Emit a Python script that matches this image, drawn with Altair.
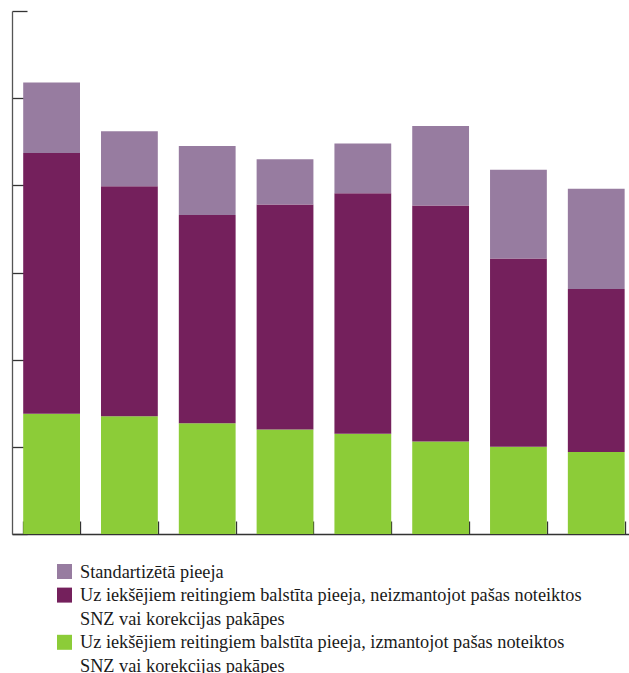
import altair as alt
import pandas as pd

categories = ["1", "2", "3", "4", "5", "6", "7", "8"]
series_names = [
    "Standartizētā pieeja",
    "Uz iekšējiem reitingiem balstīta pieeja, neizmantojot pašas noteiktos SNZ vai korekcijas pakāpes",
    "Uz iekšējiem reitingiem balstīta pieeja, izmantojot pašas noteiktos SNZ vai korekcijas pakāpes",
]
colors = ["#977ca0", "#74205c", "#8ccc38"]

standardised = [8.1, 6.3, 7.9, 5.2, 5.7, 9.1, 10.2, 11.5]
irb_without_own = [29.9, 26.4, 23.9, 25.8, 27.6, 27.1, 21.6, 18.7]
irb_with_own = [13.8, 13.5, 12.7, 12.0, 11.5, 10.6, 10.0, 9.4]

y_ticks = [0, 10, 20, 30, 40, 50, 60]

legend_lines = [
    "Standartizētā pieeja",
    "Uz iekšējiem reitingiem balstīta pieeja, neizmantojot pašas noteiktos",
    "SNZ vai korekcijas pakāpes",
    "Uz iekšējiem reitingiem balstīta pieeja, izmantojot pašas noteiktos",
    "SNZ vai korekcijas pakāpes",
]
legend_series = [series_names[0], series_names[1], "", series_names[2], ""]

W = 617
H = 523

rows = []
for i, c in enumerate(categories):
    rows.append({"cat": c, "series": series_names[2], "value": irb_with_own[i], "ord": 0})
    rows.append({"cat": c, "series": series_names[1], "value": irb_without_own[i], "ord": 1})
    rows.append({"cat": c, "series": series_names[0], "value": standardised[i], "ord": 2})
df = pd.DataFrame(rows)

color_scale = alt.Scale(domain=series_names, range=colors)
FONT = "Liberation Sans Narrow"

bars = alt.Chart(df).mark_bar().encode(
    x=alt.X(
        "cat:N",
        sort=categories,
        scale=alt.Scale(paddingInner=0.27, paddingOuter=0.1, align=0.72),
        axis=alt.Axis(
            orient="top", offset=-H, labels=False, title=None, tickBand="extent",
            tickSize=13, tickColor="#333333", domainColor="#333333",
            tickWidth=1.3, domainWidth=1.3, grid=False,
        ),
    ),
    y=alt.Y(
        "value:Q",
        stack="zero",
        scale=alt.Scale(domain=[0, 60], nice=False),
        axis=alt.Axis(
            orient="right", offset=-W, values=y_ticks, labels=False, title=None,
            grid=False, tickSize=15, tickColor="#333333", domainColor="#555555",
            tickWidth=1.3, domainWidth=1.3,
        ),
    ),
    color=alt.Color("series:N", scale=color_scale, legend=None),
    order=alt.Order("ord:Q"),
).properties(width=W, height=H)

leg_df = pd.DataFrame({
    "row": list(range(len(legend_lines))),
    "line": legend_lines,
    "series": legend_series,
})
leg_y = alt.Y(
    "row:Q",
    scale=alt.Scale(domain=[-0.784, 4.089], nice=False, zero=False, reverse=True),
    axis=None,
)

leg_text = alt.Chart(leg_df).mark_text(
    align="left", baseline="alphabetic", font=FONT, fontSize=18.3, color="#1a1a1a"
).encode(x=alt.value(68), y=leg_y, text="line:N")

leg_sw = alt.Chart(leg_df).transform_filter("datum.series != ''").mark_square(
    size=225, opacity=1, strokeWidth=0, yOffset=-6
).encode(
    x=alt.value(52.5), y=leg_y,
    color=alt.Color("series:N", scale=color_scale, legend=None),
)

legend = alt.layer(leg_sw, leg_text).properties(width=W, height=115)

chart = alt.vconcat(bars, legend, spacing=24).properties(
    padding={"left": 11, "top": 10, "right": 0, "bottom": 0},
    background="white",
).configure_view(strokeWidth=0, stroke="transparent")

chart.save("out.html", embed_options={"renderer": "svg", "actions": False})
